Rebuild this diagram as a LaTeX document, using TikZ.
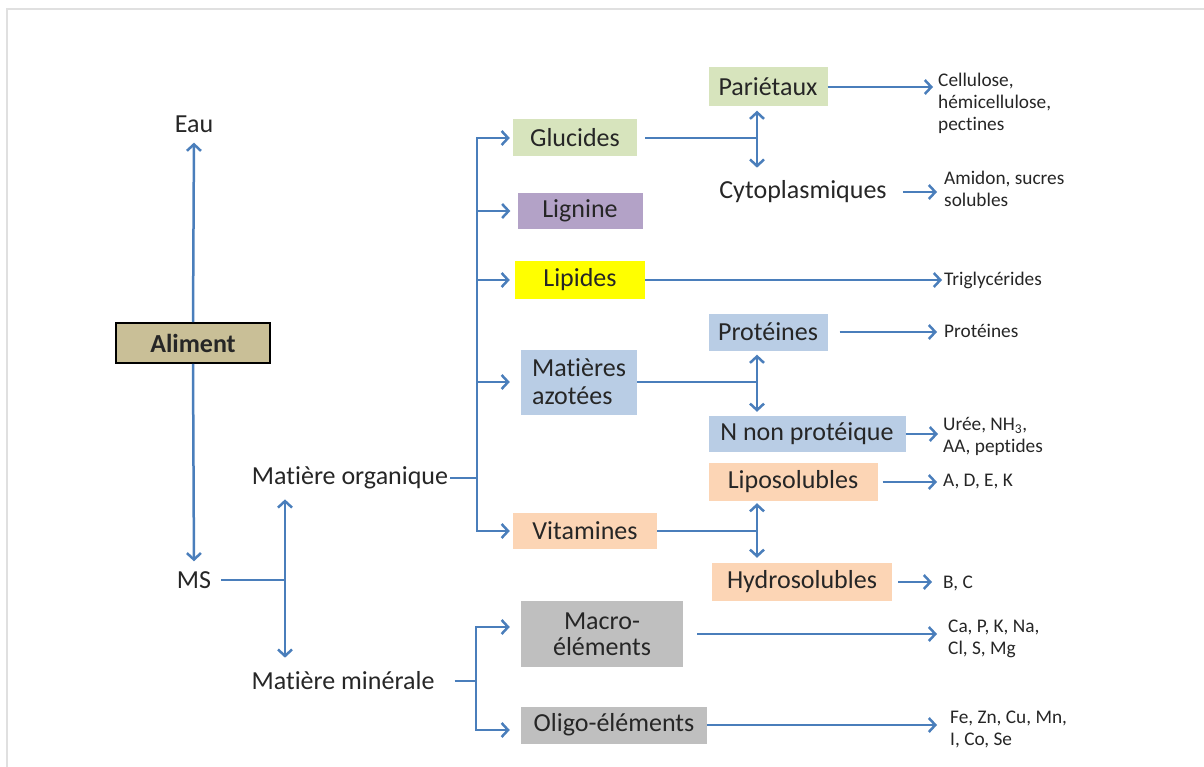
\documentclass[tikz,border=0pt]{standalone}
\usepackage{fontspec}
\setmainfont{Carlito}[Ligatures=NoCommon]
\usepackage{tikz}
\usetikzlibrary{arrows.meta,positioning}
\definecolor{arrowblue}{HTML}{4A7EBB}
\definecolor{boxgreen}{HTML}{D7E4BD}
\definecolor{boxviolet}{HTML}{B3A2C7}
\definecolor{boxyellow}{HTML}{FFFF00}
\definecolor{boxblue}{HTML}{B9CDE5}
\definecolor{boxorange}{HTML}{FCD5B5}
\definecolor{boxgray}{HTML}{BFBFBF}
\definecolor{boxtan}{HTML}{C9BF97}
\tikzset{
  txt/.style={ text=black!85, font=\fontsize{26}{28}\selectfont, inner sep=2pt }
}
\tikzset{
  lst/.style={ text=black!85, font=\fontsize{19.3}{22}\selectfont, inner sep=2pt, anchor=west, align=left }
}
\tikzset{
  bx/.style={ txt, minimum height=37pt, inner sep=0pt }
}
\tikzset{
  bxG/.style={ bx, fill=boxgreen }
}
\tikzset{
  bxV/.style={ bx, fill=boxviolet }
}
\tikzset{
  bxY/.style={ bx, fill=boxyellow }
}
\tikzset{
  bxB/.style={ bx, fill=boxblue }
}
\tikzset{
  bxO/.style={ bx, fill=boxorange }
}
\tikzset{
  bxGr/.style={ bx, fill=boxgray }
}
\tikzset{
  ln/.style={ draw=arrowblue, line width=2.5pt }
}

\begin{document}
\begin{tikzpicture}[x=1pt, y=-1pt, >={Straight Barb[length=6.5pt,width=14pt]}]
      \useasboundingbox (0,0) rectangle (1204,767);
      \draw[black!12, line width=2pt] (7,767) -- (7,9) -- (1204,9);

      % left part
      \node[bx, fill=boxtan, draw=black, line width=1.6pt, minimum width=154pt, minimum height=40pt] (al) at (193,343) {\bfseries Aliment};
      \node[txt] (eau) at (194,124) {Eau};
      \node[txt] (ms) at (194,580) {MS};
      \node[txt] (mo) at (350,478) {Matière organique};
      \node[txt] (mm) at (343,681) {Matière minérale};

      % second column
      \node[bxG, minimum width=124pt] (gl) at (575,138) {Glucides};
      \node[bxV, minimum width=125pt, minimum height=36pt] (lg) at (580,211) {Lignine};
      \node[bxY, minimum width=130pt] (lp) at (580,280) {Lipides};
      \node[bxB, minimum width=116pt, minimum height=65pt, align=left] (ma) at (579,382) {Matières\\azotées};
      \node[bxO, minimum width=144pt, minimum height=36pt] (vi) at (585,531) {Vitamines};
      \node[bxGr, minimum width=162pt, minimum height=66pt, align=center, font=\fontsize{26}{26.5}\selectfont] (mac) at (602,634) {Macro-\\éléments};
      \node[bxGr, minimum width=186pt] (oli) at (614,725) {Oligo-éléments};

      % third column
      \node[bxG, minimum width=119pt, minimum height=39pt] (pa) at (768,87) {Pariétaux};
      \node[txt] (cy) at (803,192) {Cytoplasmiques};
      \node[bxB, minimum width=119pt] (pr) at (768,332) {Protéines};
      \node[bxB, minimum width=197pt, minimum height=36pt] (nnp) at (807,434) {N non protéique};
      \node[bxO, minimum width=169pt, minimum height=38pt] (lis) at (793,482) {Liposolubles};
      \node[bxO, minimum width=180pt, minimum height=38pt] (hys) at (802,582) {Hydrosolubles};

      % lists
      \node[lst] (cel) at (936,103) {Cellulose,\\hémicellulose,\\pectines};
      \node[lst] (am) at (942,189) {Amidon, sucres\\solubles};
      \node[lst] (tg) at (942,280) {Triglycérides};
      \node[lst] (pt) at (942,331) {Protéines};
      \node[lst] (ur) at (941,436) {Urée, NH\textsubscript{3},\\AA, peptides};
      \node[lst] (adek) at (941,482) {A, D, E, K};
      \node[lst] (bc) at (941,583) {B, C};
      \node[lst] (capk) at (946,639) {Ca, P, K, Na,\\Cl, S, Mg};
      \node[lst] (fezn) at (948,729) {Fe, Zn, Cu, Mn,\\I, Co, Se};

      \coordinate (jms) at (285,580);
      \coordinate (jo) at (477,478);
      \coordinate (jm) at (476,681);
      \coordinate (jg) at (757,138);
      \coordinate (ja) at (757,382);
      \coordinate (jv) at (757,531);

      \draw[ln,->, shorten >=8pt] (al.north) -- (eau.south);
      \draw[ln,->, shorten >=8pt] (al.south) -- (ms.north);
      \draw[ln, shorten <=8pt] (ms.east) -- (jms);
      \draw[ln,<->, shorten <=8pt, shorten >=12pt] (jms |- mo.south) -- (jms |- mm.north);

      \draw[ln] (mo.east) -- (jo);
      \draw[ln,->, shorten >=3pt] (jo) |- (gl.west);
      \draw[ln,->, shorten >=7pt] (jo) |- (lg.west);
      \draw[ln,->, shorten >=5pt] (jo) |- (lp.west);
      \draw[ln,->, shorten >=11pt] (jo) |- (ma.west);
      \draw[ln,->, shorten >=3pt] (jo) |- (vi.west);

      \draw[ln, shorten <=18pt] (mm.east) -- (jm);
      \draw[ln,->, shorten >=11pt] (jm) |- ([yshift=7pt]mac.west);
      \draw[ln,->, shorten >=11pt] (jm) |- ([yshift=-5pt]oli.west);

      \draw[ln, shorten <=8pt] (gl.east) -- (jg);
      \draw[ln,<->, shorten <=4pt, shorten >=11pt] (jg |- pa.south) -- (jg |- cy.north);
      \draw[ln] (ma.east) -- (ja);
      \draw[ln,<->, shorten <=4pt, shorten >=4pt] (ja |- pr.south) -- (ja |- nnp.north);
      \draw[ln] (vi.east) -- (jv);
      \draw[ln,<->, shorten <=2pt, shorten >=5pt] (jv |- lis.south) -- (jv |- hys.north);

      \draw[ln,->, shorten >=3pt] (pa.east) -- (pa.east -| cel.west);
      \draw[ln,->, shorten <=14pt, shorten >=5pt] (cy.east) -- (cy.east -| am.west);
      \draw[ln,->] (lp.east) -- (lp.east -| tg.west);
      \draw[ln,->, shorten <=12pt, shorten >=5pt] (pr.east) -- (pr.east -| pt.west);
      \draw[ln,->, shorten >=3pt] (nnp.east) -- (nnp.east -| ur.west);
      \draw[ln,->, shorten <=5pt, shorten >=4pt] (lis.east) -- (lis.east -| adek.west);
      \draw[ln,->, shorten <=6pt, shorten >=9pt] (hys.east) -- (hys.east -| bc.west);
      \draw[ln,->, shorten <=14pt, shorten >=9pt] (mac.east) -- (mac.east -| capk.west);
      \draw[ln,->, shorten >=11pt] (oli.east) -- (oli.east -| fezn.west);
    \end{tikzpicture}
\end{document}
